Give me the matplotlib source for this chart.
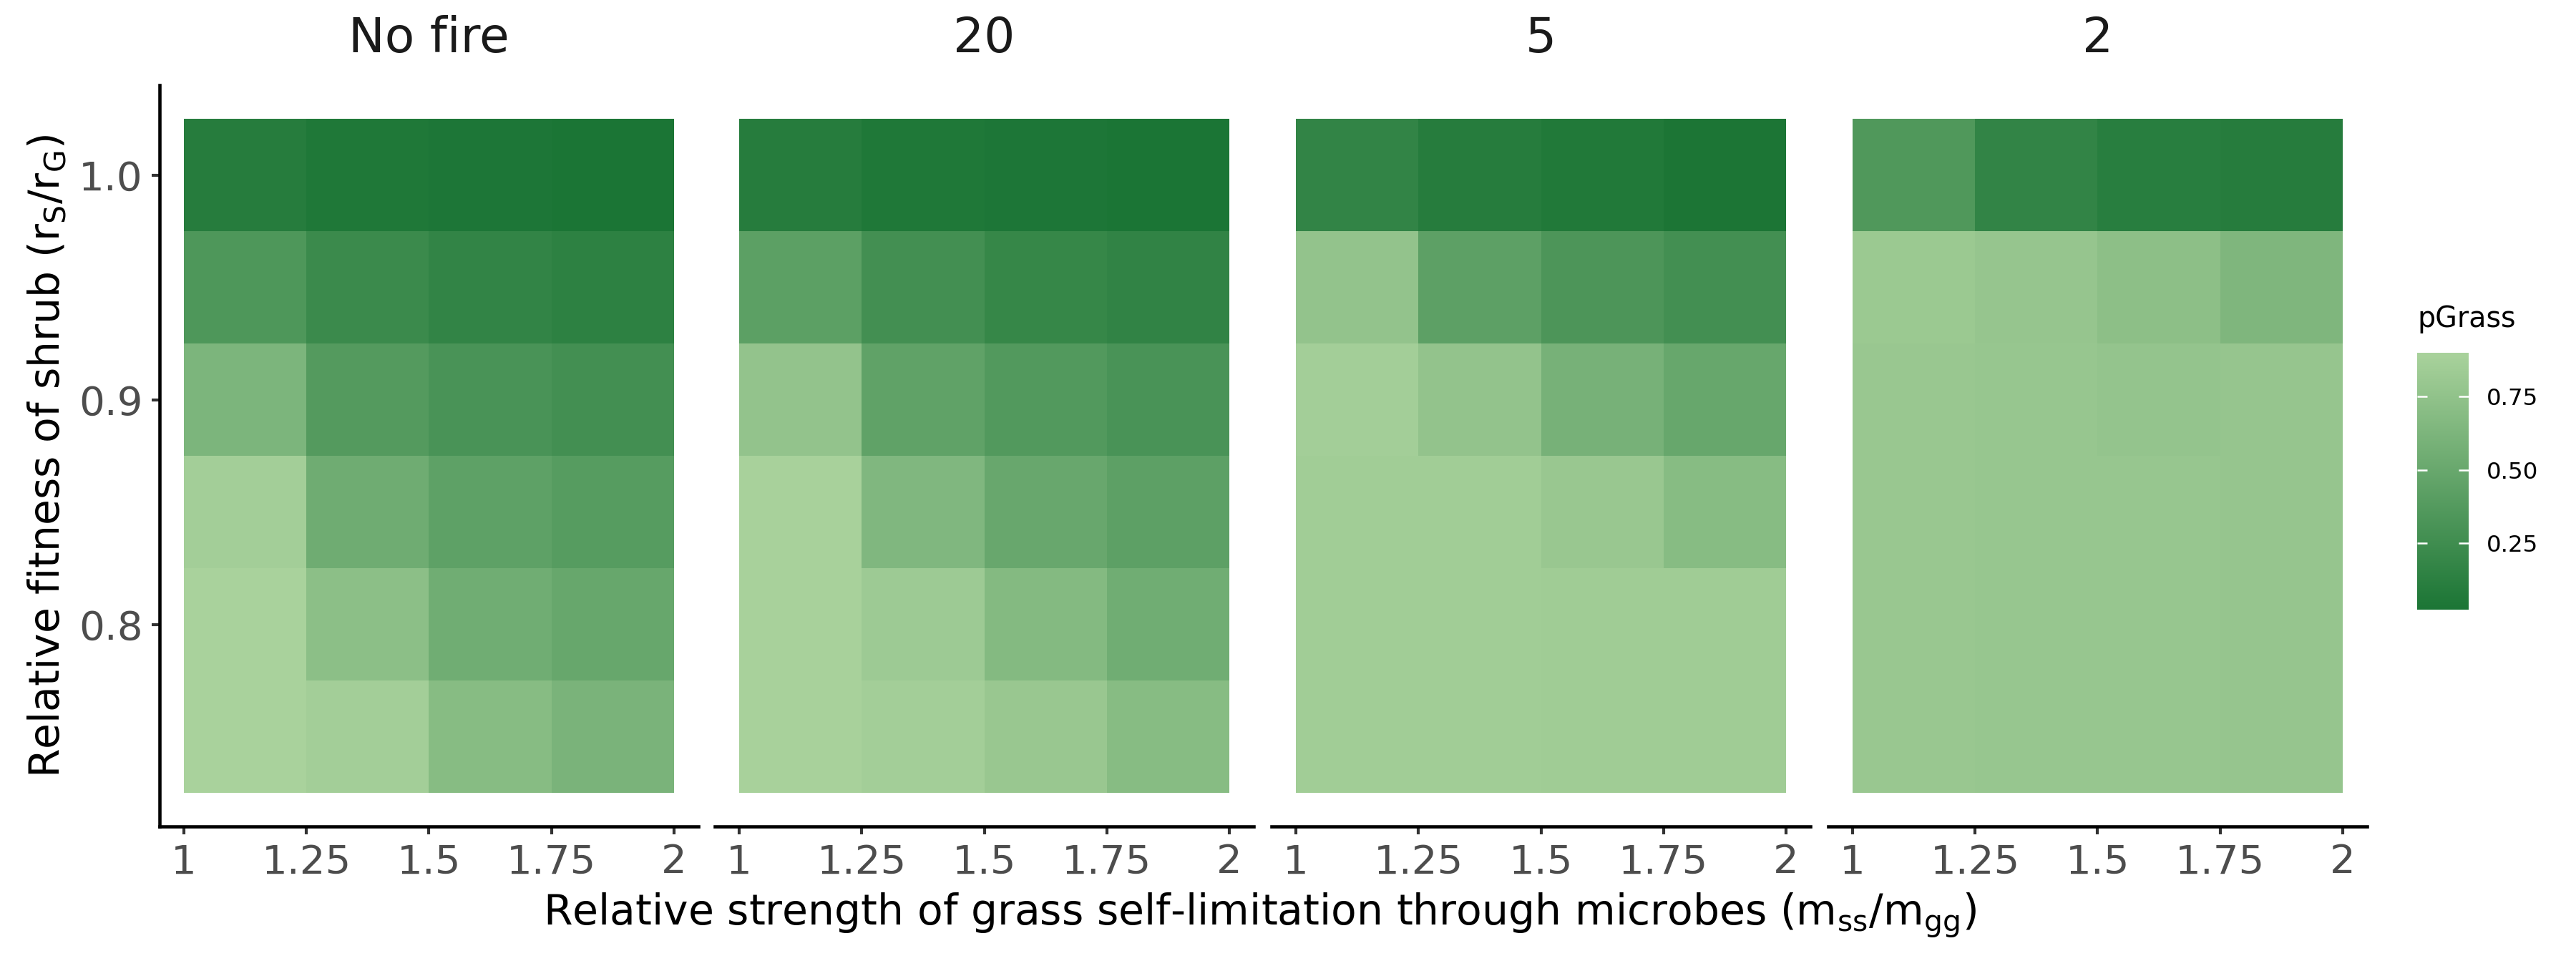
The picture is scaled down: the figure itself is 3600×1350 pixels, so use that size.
import numpy as np
import matplotlib
matplotlib.use("Agg")
import matplotlib.pyplot as plt
from matplotlib.colors import LinearSegmentedColormap

plt.rcParams['font.family'] = ['DejaVu Sans']
plt.rcParams['mathtext.default'] = 'regular'

# data
fire_labels = ["No fire", "20", "5", "2"]
mss_vals = [1.125, 1.375, 1.625, 1.875]        # tile centres, x
rs_vals = [0.75, 0.80, 0.85, 0.90, 0.95, 1.00]  # tile centres, y
x_ticks = [1, 1.25, 1.5, 1.75, 2]
x_ticklabels = ["1", "1.25", "1.5", "1.75", "2"]
y_ticks = [0.8, 0.9, 1.0]

# pGrass, rows from rs=0.75 (bottom) up to rs=1.0 (top)
pgrass_nofire = [
    [0.90, 0.86, 0.69, 0.61],
    [0.90, 0.72, 0.55, 0.49],
    [0.86, 0.54, 0.44, 0.39],
    [0.625, 0.375, 0.31, 0.27],
    [0.34, 0.22, 0.17, 0.14],
    [0.09, 0.05, 0.04, 0.025],
]
pgrass_20 = [
    [0.89, 0.86, 0.80, 0.69],
    [0.89, 0.825, 0.67, 0.55],
    [0.89, 0.65, 0.50, 0.43],
    [0.76, 0.45, 0.36, 0.31],
    [0.425, 0.27, 0.19, 0.16],
    [0.09, 0.05, 0.04, 0.025],
]
pgrass_5 = [
    [0.85, 0.85, 0.84, 0.84],
    [0.85, 0.85, 0.84, 0.84],
    [0.85, 0.85, 0.80, 0.69],
    [0.86, 0.76, 0.59, 0.49],
    [0.76, 0.43, 0.33, 0.27],
    [0.17, 0.09, 0.06, 0.03],
]
pgrass_2 = [
    [0.80, 0.785, 0.785, 0.78],
    [0.80, 0.785, 0.785, 0.78],
    [0.80, 0.785, 0.785, 0.78],
    [0.80, 0.785, 0.77, 0.78],
    [0.81, 0.78, 0.725, 0.64],
    [0.35, 0.17, 0.11, 0.09],
]
panels = [pgrass_nofire, pgrass_20, pgrass_5, pgrass_2]

allv = np.array(panels)
vmin, vmax = allv.min(), allv.max()
cmap = LinearSegmentedColormap.from_list("grass", ["#1b7535", "#a9d29c"])

fig = plt.figure(figsize=(12, 4.5), dpi=300)

lefts = [0.0619, 0.2775, 0.4936, 0.7097]
w = 0.2092
bottom = 0.1444
h = 0.7674

for i, (lab, z) in enumerate(zip(fire_labels, panels)):
    ax = fig.add_axes([lefts[i], bottom, w, h])
    mesh = ax.pcolormesh(mss_vals, rs_vals, np.array(z), shading='nearest',
                         cmap=cmap, vmin=vmin, vmax=vmax)
    ax.set_xlim(0.95, 2.05)
    ax.set_ylim(0.71, 1.04)
    for s in ['top', 'right']:
        ax.spines[s].set_visible(False)
    ax.spines['bottom'].set_linewidth(1.1)
    ax.set_xticks(x_ticks)
    ax.set_xticklabels(x_ticklabels)
    ax.tick_params(axis='both', colors='#333333', labelcolor='#4D4D4D',
                   labelsize=13.5, length=2.6, width=1.0, pad=3)
    if i == 0:
        ax.spines['left'].set_linewidth(1.1)
        ax.set_yticks(y_ticks)
        ax.set_yticklabels(["0.8", "0.9", "1.0"])
        ax.set_ylabel("Relative fitness of shrub (r$_{S}$/r$_{G}$)", fontsize=14.0, labelpad=3.5)
    else:
        ax.spines['left'].set_visible(False)
        ax.set_yticks([])
    ax.set_title(lab, fontsize=16.3, color='#1A1A1A', pad=11)

fig.text(0.489, 0.052, "Relative strength of grass self-limitation through microbes (m$_{ss}$/m$_{gg}$)",
         ha='center', va='center', fontsize=14.0)

cax = fig.add_axes([0.9383, 0.3691, 0.02, 0.266])
cb = fig.colorbar(mesh, cax=cax)
cb.outline.set_visible(False)
cb.set_ticks([0.25, 0.5, 0.75])
cb.set_ticklabels(["0.25", "0.50", "0.75"])
cax.tick_params(direction='in', color='white', length=3.4, width=0.6,
                left=True, right=True, labelsize=7.8, pad=6)
fig.text(0.9383, 0.655, "pGrass", ha='left', va='bottom', fontsize=9.5)

fig.savefig("out.png", dpi=300)
